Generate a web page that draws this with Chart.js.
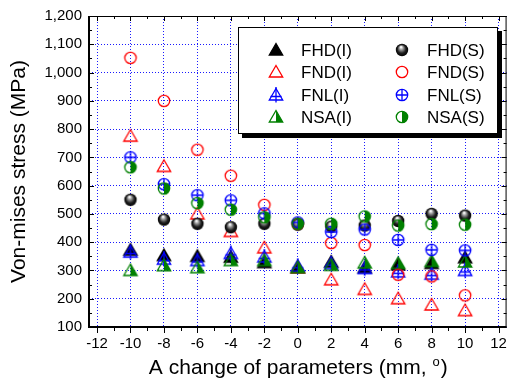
<!DOCTYPE html>
<html>
<head>
<meta charset="utf-8">
<script src="https://cdn.jsdelivr.net/npm/chart.js@4.4.0/dist/chart.umd.min.js"></script>
<style>
html, body { margin: 0; padding: 0; background: #fff; }
canvas { display: block; }
</style>
</head>
<body>
<canvas id="stressChart" width="515" height="381"></canvas>
<script>
// parameter change (mm or deg)
const changes = [-10, -8, -6, -4, -2, 0, 2, 4, 6, 8, 10];

// Von-mises stress (MPa), implant (I) and screw (S)
const fhdI = [372, 353, 350, 347, 328, 310, 330, 310, 320, 325, 345];
const fndI = [775, 668, 500, 438, 380, 310, 267, 233, 200, 178, 158];
const fnlI = [365, 340, 335, 360, 348, 315, 324, 307, 295, 287, 300];
const nsaI = [300, 317, 310, 335, 335, 310, 318, 327, 325, 332, 330];
const fhdS = [550, 480, 465, 453, 465, 462, 455, 459, 475, 500, 494];
const fndS = [1052, 900, 727, 635, 532, 465, 397, 390, 285, 279, 212];
const fnlS = [700, 605, 566, 548, 502, 470, 436, 445, 408, 373, 371];
const nsaS = [665, 590, 538, 515, 488, 465, 465, 491, 459, 464, 462];

const xTicks = [-12, -10, -8, -6, -4, -2, 0, 2, 4, 6, 8, 10, 12];
const yTicks = [100, 200, 300, 400, 500, 600, 700, 800, 900, 1000, 1100, 1200];

const FONT = "'Liberation Sans', Arial, sans-serif";
const RED = '#ff0000', BLUE = '#0000ff', GREEN = '#008000', BLACK = '#000000';

// small canvas markers (Origin style symbols)
function makeMarker(kind, color) {
    const c = document.createElement('canvas');
    c.width = 18; c.height = 18;
    const g = c.getContext('2d');
    g.lineWidth = 1.3;
    g.strokeStyle = color;
    g.fillStyle = color;
    const tri = () => { g.beginPath(); g.moveTo(9, 2.5); g.lineTo(15.7, 14); g.lineTo(2.3, 14); g.closePath(); };
    const circ = () => { g.beginPath(); g.arc(9, 9, 5.7, 0, Math.PI * 2); };
    if (kind === 'triFill') { tri(); g.fill(); g.stroke(); }
    if (kind === 'triOpen') { tri(); g.stroke(); }
    if (kind === 'triPlus') {
        tri(); g.stroke();
        g.beginPath(); g.moveTo(9, 1); g.lineTo(9, 16.5); g.moveTo(3.5, 10.5); g.lineTo(14.5, 10.5); g.stroke();
    }
    if (kind === 'triHalf') {
        g.beginPath(); g.moveTo(9, 2.5); g.lineTo(15.7, 14); g.lineTo(9, 14); g.closePath(); g.fill();
        tri(); g.stroke();
    }
    if (kind === 'ball') {
        const grd = g.createRadialGradient(8, 6, 0.5, 9, 9, 6.2);
        grd.addColorStop(0, '#ffffff');
        grd.addColorStop(0.3, '#909090');
        grd.addColorStop(0.65, '#202020');
        grd.addColorStop(1, '#000000');
        g.fillStyle = grd;
        g.beginPath(); g.arc(9, 9, 6.2, 0, Math.PI * 2); g.fill();
    }
    if (kind === 'circOpen') { circ(); g.stroke(); }
    if (kind === 'circPlus') {
        circ(); g.stroke();
        g.beginPath(); g.moveTo(9, 3.3); g.lineTo(9, 14.7); g.moveTo(3.3, 9); g.lineTo(14.7, 9); g.stroke();
    }
    if (kind === 'circHalf') {
        g.beginPath(); g.arc(9, 9, 5.7, -Math.PI / 2, Math.PI / 2); g.closePath(); g.fill();
        circ(); g.stroke();
    }
    return c;
}

const series = [
    { label: 'FHD(I)', values: fhdI, marker: makeMarker('triFill', BLACK) },
    { label: 'FND(I)', values: fndI, marker: makeMarker('triOpen', RED) },
    { label: 'FNL(I)', values: fnlI, marker: makeMarker('triPlus', BLUE) },
    { label: 'NSA(I)', values: nsaI, marker: makeMarker('triHalf', GREEN) },
    { label: 'FHD(S)', values: fhdS, marker: makeMarker('ball', BLACK) },
    { label: 'FND(S)', values: fndS, marker: makeMarker('circOpen', RED) },
    { label: 'FNL(S)', values: fnlS, marker: makeMarker('circPlus', BLUE) },
    { label: 'NSA(S)', values: nsaS, marker: makeMarker('circHalf', GREEN) }
];

// frame, minor ticks, legend box and axis titles
const decorations = {
    id: 'decorations',
    afterDraw(chart) {
        const ctx = chart.ctx, a = chart.chartArea;
        const xs = chart.scales.x, ys = chart.scales.y;
        ctx.save();
        ctx.strokeStyle = BLACK;
        ctx.fillStyle = BLACK;
        ctx.lineWidth = 1;

        // ticks: bottom outward, others inward
        ctx.beginPath();
        for (let v = -12; v <= 12; v++) {
            const len = v % 2 === 0 ? 6 : 4;
            const px = Math.round(xs.getPixelForValue(v)) + 0.5;
            ctx.moveTo(px, a.bottom); ctx.lineTo(px, a.bottom + len);
            ctx.moveTo(px, a.top); ctx.lineTo(px, a.top + len - 1);
        }
        for (let v = 100; v <= 1200; v += 50) {
            const len = v % 100 === 0 ? 5 : 3;
            const py = Math.round(ys.getPixelForValue(v)) + 0.5;
            ctx.moveTo(a.left, py); ctx.lineTo(a.left + len, py);
            ctx.moveTo(a.right, py); ctx.lineTo(a.right - len, py);
        }
        ctx.stroke();

        // axis frame
        ctx.fillRect(a.left - 1, a.top, 2, a.bottom - a.top + 1);
        ctx.fillRect(a.left - 1, a.bottom - 1, a.right - a.left + 1, 2);
        ctx.fillRect(a.left, a.top, a.right - a.left, 1);
        ctx.fillRect(a.right - 1, a.top, 1, a.bottom - a.top);

        // legend box with shadow
        const lx = 238, ly = 27, lw = 260, lh = 107;
        ctx.fillRect(lx + 4, ly + 4, lw, lh);
        ctx.fillStyle = '#ffffff';
        ctx.fillRect(lx, ly, lw, lh);
        ctx.strokeRect(lx + 0.5, ly + 0.5, lw - 1, lh - 1);
        ctx.fillStyle = BLACK;
        ctx.font = '17px ' + FONT;
        ctx.textBaseline = 'alphabetic';
        ctx.textAlign = 'left';
        series.forEach((s, i) => {
            const col = Math.floor(i / 4), row = i % 4;
            const mx = 276 + col * 126, my = 50 + row * 22.3;
            ctx.drawImage(s.marker, Math.round(mx - 9), Math.round(my - 9));
            ctx.fillText(s.label, mx + 25, my + 6);
        });

        // y title
        ctx.save();
        ctx.translate(19, (a.top + a.bottom) / 2);
        ctx.rotate(-Math.PI / 2);
        ctx.font = '21px ' + FONT;
        ctx.textAlign = 'center';
        ctx.textBaseline = 'middle';
        ctx.fillText('Von-mises stress (MPa)', 0, 0);
        ctx.restore();

        // x title with superscript degree "o"
        const t1 = 'A change of parameters (mm, ', sup = 'o', t2 = ')';
        ctx.font = '21px ' + FONT;
        const w1 = ctx.measureText(t1).width, w2 = ctx.measureText(t2).width;
        ctx.font = '13px ' + FONT;
        const ws = ctx.measureText(sup).width;
        const x0 = (a.left + a.right) / 2 - (w1 + ws + w2) / 2;
        const base = 374;
        ctx.font = '21px ' + FONT;
        ctx.fillText(t1, x0, base);
        ctx.font = '13px ' + FONT;
        ctx.fillText(sup, x0 + w1, base - 8);
        ctx.font = '21px ' + FONT;
        ctx.fillText(t2, x0 + w1 + ws + 1, base);
        ctx.restore();
    }
};

const ctx = document.getElementById('stressChart').getContext('2d');
new Chart(ctx, {
    type: 'scatter',
    data: {
        datasets: series.map((s, i) => ({
            label: s.label,
            data: changes.map((x, j) => ({ x: x, y: s.values[j] })),
            pointStyle: s.marker,
            showLine: false,
            order: series.length - i
        }))
    },
    options: {
        responsive: false,
        animation: false,
        events: [],
        layout: { padding: { top: 15, right: 6, left: 0, bottom: 0 } },
        plugins: { legend: { display: false }, tooltip: { enabled: false } },
        scales: {
            x: {
                type: 'linear',
                min: -12.48,
                max: 12.48,
                afterBuildTicks: scale => { scale.ticks = xTicks.map(v => ({ value: v })); },
                afterFit: scale => { scale.height = 54; },
                grid: { color: '#1a1aff', lineWidth: 1, drawTicks: false },
                border: { display: false, dash: [1, 2] },
                ticks: {
                    autoSkip: false,
                    maxRotation: 0,
                    padding: 8,
                    color: BLACK,
                    font: { family: FONT, size: 15 }
                }
            },
            y: {
                type: 'linear',
                min: 100,
                max: 1200,
                afterBuildTicks: scale => { scale.ticks = yTicks.map(v => ({ value: v })); },
                afterFit: scale => { scale.width = 89; },
                grid: { color: '#1a1aff', lineWidth: 1, drawTicks: false },
                border: { display: false, dash: [1, 2] },
                ticks: {
                    padding: 7,
                    color: BLACK,
                    font: { family: FONT, size: 15 },
                    callback: v => v.toLocaleString('en-US')
                }
            }
        }
    },
    plugins: [decorations]
});
</script>
</body>
</html>
